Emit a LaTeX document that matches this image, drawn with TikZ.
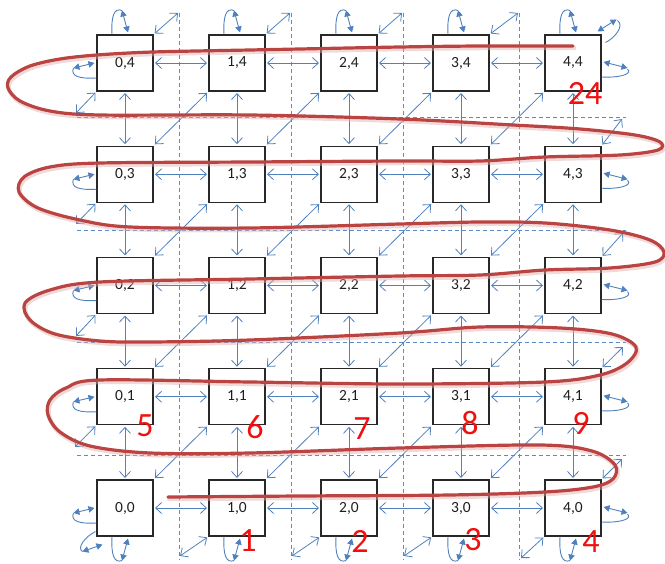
\documentclass[tikz,border=0pt]{standalone}
\usepackage{fontspec}
\setmainfont{Carlito}
\usetikzlibrary{arrows.meta,calc}
\definecolor{ablue}{RGB}{79,129,189}
\definecolor{dblue}{RGB}{91,139,200}
\definecolor{curvered}{RGB}{186,68,66}
\definecolor{numred}{RGB}{240,16,16}
\definecolor{boxline}{RGB}{40,40,40}
\begin{document}
\begin{tikzpicture}[x=1pt,y=-1pt,
  cell/.style={draw=boxline, fill=white, line width=1.1pt, minimum size=56pt, inner sep=0pt,
    font=\fontsize{15.5}{16}\selectfont, text={rgb,255:red,30;green,30;blue,30}},
  link/.style={draw=ablue, line width=0.8pt,
    {Straight Barb[length=6pt,width=11pt]}-{Straight Barb[length=6pt,width=11pt]},
    shorten >=1.5pt, shorten <=1.5pt},
  stub/.style={draw=ablue, line width=0.8pt,
    {Straight Barb[length=6pt,width=11pt]}-{Straight Barb[length=6pt,width=11pt]},
    shorten <=1.5pt},
  gridline/.style={draw=dblue, line width=0.6pt, dash pattern=on 4pt off 3pt},
  loopline/.style={draw=ablue, line width=0.9pt},
  looparrow/.style={draw=ablue, line width=0.9pt,
    {Triangle[length=6pt,width=6.5pt]}-{Triangle[length=6pt,width=6.5pt]}},
  snake/.style={draw=curvered, line width=3.2pt, line cap=round, line join=round},
  snakeshadow/.style={draw=curvered!45, line width=4.5pt, line cap=round, line join=round, opacity=0.45},
  rank/.style={text=numred, font=\fontsize{34}{34}\selectfont, inner sep=0pt}
]
\useasboundingbox (0,0) rectangle (665,564);

% dashed grid lines
\foreach \xx in {179,291,403,519} {
  \draw[gridline] (\xx,13) -- (\xx,560);
}
\foreach \yy in {117,230,342,455} {
  \draw[gridline] (77,\yy) -- (626,\yy);
}

% boxes
\foreach \i in {0,...,4} {
  \foreach \j in {0,...,4} {
    \node[cell] (b\i\j) at ({125+112*\i},{508-111.25*\j}) {\i,\j};
  }
}

% stub end coordinates
\coordinate (t0) at (178,13);
\coordinate (t1) at (290,13);
\coordinate (t2) at (402,13);
\coordinate (t3) at (518,13);
\coordinate (r3) at (622,119);
\coordinate (r2) at (623,233);
\coordinate (r1) at (623,347);
\coordinate (r0) at (622,459);
\coordinate (l4) at (76,113);
\coordinate (l3) at (76,224);
\coordinate (l2) at (76,336);
\coordinate (l1) at (75,447);
\coordinate (d1) at (180,556);
\coordinate (d2) at (292,556);
\coordinate (d3) at (404,556);
\coordinate (d4) at (521,558);

% horizontal and vertical links
\foreach \i in {0,...,3} {
  \pgfmathtruncatemacro{\ip}{\i+1}
  \foreach \j in {0,...,4} {
    \draw[link] (b\i\j) -- (b\ip\j);
    \draw[link] (b\j\i) -- (b\j\ip);
  }
}
% diagonal links
\foreach \i in {0,...,3} {
  \pgfmathtruncatemacro{\ip}{\i+1}
  \foreach \j in {0,...,3} {
    \pgfmathtruncatemacro{\jp}{\j+1}
    \draw[link, shorten <=2pt, shorten >=2pt] (b\i\j.north east) -- (b\ip\jp.south west);
  }
}
% boundary stubs
\foreach \i in {0,...,3} {
  \draw[stub] (b\i4.north east) -- (t\i);
  \draw[stub] (b4\i.north east) -- (r\i);
}
\foreach \i in {1,...,4} {
  \draw[stub] (b0\i.south west) -- (l\i);
  \draw[stub] (b\i0.south west) -- (d\i);
}

% self loops
\foreach \i in {0,...,4} {
  \draw[loopline] ($(b\i4.north)+(-13,0)$) .. controls +(-1,-18) and +(-8,-3) .. ($(b\i4.north)+(-3,-24)$);
  \draw[looparrow] ($(b\i4.north)+(-3,-24)$) -- ($(b\i4.north)+(3,-2)$);
  \draw[loopline] ($(b\i0.south)+(-13,0)$) .. controls +(-1,18) and +(-8,3) .. ($(b\i0.south)+(-3,24)$);
  \draw[looparrow] ($(b\i0.south)+(-3,24)$) -- ($(b\i0.south)+(3,2)$);
  \draw[loopline] ($(b0\i.west)+(0,15)$) .. controls +(-18,1) and +(-3,8) .. ($(b0\i.west)+(-23,5)$);
  \draw[looparrow] ($(b0\i.west)+(-23,5)$) -- ($(b0\i.west)+(-2,0)$);
  \draw[loopline] ($(b4\i.east)+(26,6)$) .. controls +(6,6) and +(14,1) .. ($(b4\i.east)+(0,14)$);
  \draw[looparrow] ($(b4\i.east)+(2,-1)$) -- ($(b4\i.east)+(26,5)$);
}
% corner loops
\draw[loopline] ($(b00.south west)+(-1,-5)$) .. controls +(-10,5) and +(-6,-4) .. ($(b00.south west)+(-14,15)$);
\draw[looparrow] ($(b00.south west)+(-14,15)$) -- ($(b00.south west)+(6,8)$);
\draw[loopline] ($(b44.north east)+(16,-14)$) .. controls +(8,6) and +(7,-3) .. ($(b44.north east)+(4,8)$);
\draw[looparrow] ($(b44.north east)+(-4,-3)$) -- ($(b44.north east)+(15,-15)$);

% red serpentine curve
\foreach \dx/\dy/\sty in {1.2/2/snakeshadow, 0/0/snake} {
  \draw[\sty, shift={(\dx,\dy)}] plot[smooth, tension=0.55] coordinates {
    (573,46) (480,46) (400,47) (300,49) (250,50) (153,52) (97,55) (60,59) (30,66) (11,77) (8,88)
    (20,101) (50,111) (100,115) (250,115) (400,119) (513,125) (580,129) (635,135) (660,142)
    (658,150) (620,155) (545,157) (480,161) (400,161) (250,162) (100,163) (50,167) (24,177)
    (19,192) (38,208) (80,220) (130,227) (250,228) (400,224) (480,222) (545,223) (610,230)
    (650,240) (664,252) (655,262) (610,268) (545,270) (480,275) (400,276) (250,279) (100,282)
    (50,290) (25,303) (30,320) (55,334) (100,341) (150,342) (250,340) (400,333) (480,327)
    (560,328) (612,334) (636,347) (627,363) (600,375) (545,382) (400,384) (250,382) (100,380)
    (66,388) (50,400) (48,415) (60,432) (90,446) (150,453) (250,453) (400,448) (540,445)
    (592,451) (615,465) (613,479) (593,487) (545,492) (450,495) (300,496) (168,497)
  };
}

% order labels
\node[rank] (n1) at (248,541) {1};
\node[rank] (n2) at (360,541) {2};
\node[rank] (n3) at (473,540) {3};
\node[rank] (n4) at (591,542) {4};
\node[rank] (n5) at (145,426) {5};
\node[rank] (n6) at (255,427) {6};
\node[rank] (n7) at (362,429) {7};
\node[rank] (n8) at (470,423) {8};
\node[rank] (n9) at (581,423) {9};
\node[rank] (n24) at (585,93) {24};
\end{tikzpicture}
\end{document}
